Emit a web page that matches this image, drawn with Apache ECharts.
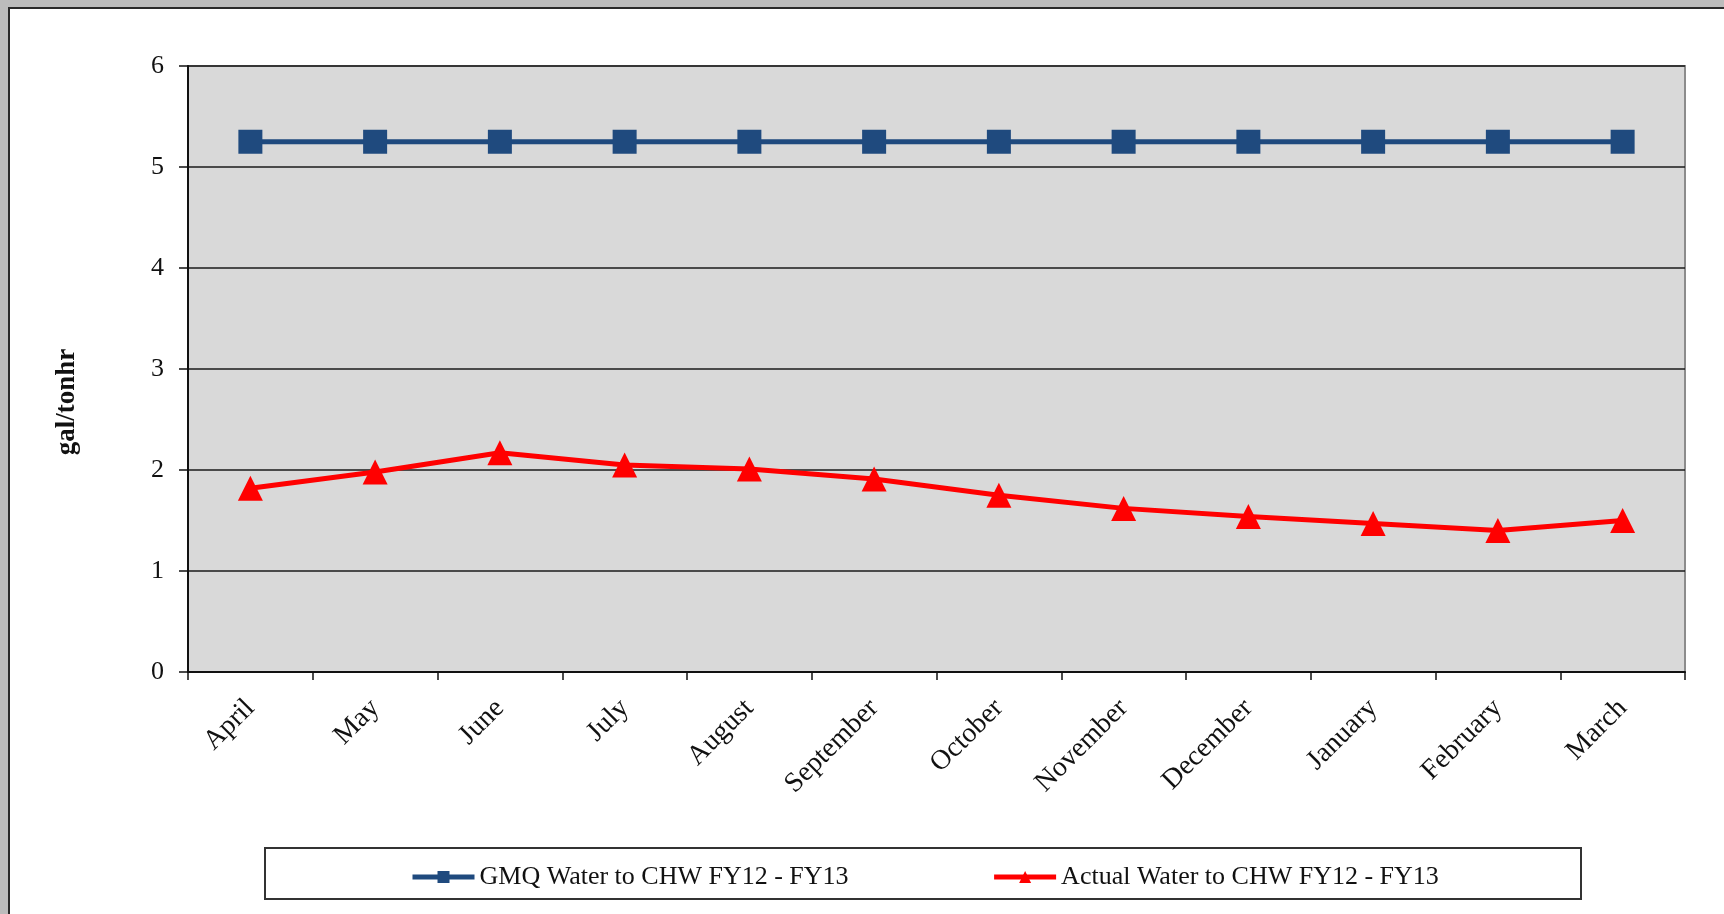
<!DOCTYPE html>
<html lang="en">
<head>
    <meta charset="UTF-8" />
    <title>GMQ vs Actual Water to CHW</title>
    <style>
        html, body {
            margin: 0;
            padding: 0;
            width: 1724px;
            height: 914px;
            overflow: hidden;
            background: #bcbcbc;
        }
        /* white sheet with a dark edge at top and left, like the original slide */
        .sheet {
            position: absolute;
            left: 8px;
            top: 7px;
            right: 0;
            bottom: 0;
            background: #fff;
            border-left: 2px solid #2a2a2a;
            border-top: 2px solid #2a2a2a;
        }
        #chart {
            position: absolute;
            left: 0;
            top: 0;
            width: 1724px;
            height: 914px;
        }
    </style>
    <script src="https://cdn.jsdelivr.net/npm/echarts@6/dist/echarts.min.js"></script>
</head>
<body>
    <div class="sheet"></div>
    <div id="chart"></div>
    <script>
        // data
        const months = ['April', 'May', 'June', 'July', 'August', 'September',
            'October', 'November', 'December', 'January', 'February', 'March']
        const gmqWater = [5.25, 5.25, 5.25, 5.25, 5.25, 5.25, 5.25, 5.25, 5.25, 5.25, 5.25, 5.25]
        const actualWater = [1.82, 1.98, 2.17, 2.05, 2.01, 1.91, 1.75, 1.62, 1.54, 1.47, 1.40, 1.50]
        const yTicks = [0, 1, 2, 3, 4, 5, 6]

        const serif = "'Liberation Serif', 'Times New Roman', serif"
        const navy = '#1f4a7e'
        const red = '#ff0000'

        var myChart = echarts.init(document.getElementById('chart'), null, { renderer: 'canvas' })
        var option = {
            animation: false,
            grid: {
                left: 188,
                top: 66,
                right: 39,
                bottom: 242,
                show: true,
                backgroundColor: '#d9d9d9',
                borderColor: '#8c8c8c',
                borderWidth: 2
            },
            legend: {
                left: 405,
                top: 859,
                itemWidth: 62,
                itemHeight: 15,
                itemGap: 143,
                lineStyle: { width: 5 },
                textStyle: { fontFamily: serif, fontSize: 26, color: '#111' },
                data: ['GMQ Water to CHW FY12 - FY13', 'Actual Water to CHW FY12 - FY13']
            },
            xAxis: {
                type: 'category',
                data: months,
                boundaryGap: true,
                axisLine: { lineStyle: { color: '#111', width: 2 } },
                axisTick: { show: true, length: 8, inside: false, lineStyle: { color: '#111', width: 1.5 } },
                axisLabel: {
                    rotate: 45,
                    interval: 0,
                    margin: 32,
                    fontFamily: serif,
                    fontSize: 28,
                    color: '#111'
                }
            },
            yAxis: {
                type: 'value',
                min: yTicks[0],
                max: yTicks[yTicks.length - 1],
                interval: 1,
                axisLine: { show: true, lineStyle: { color: '#111', width: 2 } },
                axisTick: { show: true, length: 9, lineStyle: { color: '#111', width: 1.5 } },
                axisLabel: {
                    margin: 24,
                    fontFamily: serif,
                    fontSize: 26,
                    color: '#111'
                },
                splitLine: { show: true, lineStyle: { color: '#1a1a1a', width: 1.5 } }
            },
            graphic: [
                {
                    // legend frame
                    type: 'rect',
                    shape: { x: 265, y: 848, width: 1316, height: 51 },
                    style: { fill: 'none', stroke: '#333', lineWidth: 2 },
                    z: -1
                },
                {
                    // y axis title
                    type: 'text',
                    x: 67,
                    y: 402,
                    rotation: Math.PI / 2,
                    style: {
                        text: 'gal/tonhr',
                        font: "bold 27px 'Liberation Serif', 'Times New Roman', serif",
                        fill: '#111',
                        align: 'center',
                        verticalAlign: 'middle'
                    }
                }
            ],
            series: [
                {
                    name: 'GMQ Water to CHW FY12 - FY13',
                    type: 'line',
                    data: gmqWater,
                    symbol: 'rect',
                    symbolSize: 24,
                    itemStyle: { color: navy },
                    lineStyle: { color: navy, width: 5 }
                },
                {
                    name: 'Actual Water to CHW FY12 - FY13',
                    type: 'line',
                    data: actualWater,
                    symbol: 'triangle',
                    symbolSize: [25, 25],
                    itemStyle: { color: red },
                    lineStyle: { color: red, width: 5 }
                }
            ]
        }
        myChart.setOption(option)
    </script>
</body>
</html>
